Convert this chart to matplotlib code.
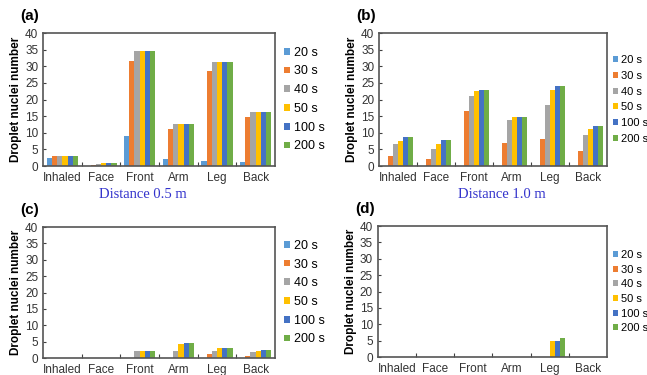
import matplotlib.pyplot as plt
import numpy as np

plt.rcParams['font.family'] = ['Liberation Sans', 'DejaVu Sans']

categories = ['Inhaled', 'Face', 'Front', 'Arm', 'Leg', 'Back']
times = ['20 s', '30 s', '40 s', '50 s', '100 s', '200 s']
colors = ['#5B9BD5', '#ED7D31', '#A5A5A5', '#FFC000', '#4472C4', '#70AD47']

# rows: time, columns: category
data_a = [[2.5, 0.0, 9.0, 2.0, 1.5, 1.2],
          [3.0, 0.3, 31.5, 11.3, 28.5, 14.8],
          [3.0, 0.5, 34.5, 12.8, 31.2, 16.3],
          [3.0, 0.8, 34.5, 12.8, 31.2, 16.3],
          [3.0, 0.8, 34.5, 12.8, 31.2, 16.3],
          [3.0, 0.8, 34.5, 12.8, 31.2, 16.3]]
data_b = [[0.0, 0.0, 0.0, 0.0, 0.0, 0.0],
          [3.0, 2.0, 16.5, 7.0, 8.0, 4.5],
          [6.5, 5.0, 21.0, 14.0, 18.5, 9.5],
          [7.5, 6.5, 22.5, 14.8, 23.0, 11.3],
          [8.8, 7.7, 23.0, 14.8, 24.2, 12.2],
          [8.8, 7.7, 23.0, 14.8, 24.2, 12.2]]
data_c = [[0.0, 0.0, 0.0, 0.0, 0.0, 0.0],
          [0.0, 0.0, 0.0, 0.0, 1.2, 0.5],
          [0.0, 0.0, 2.0, 2.0, 2.0, 1.8],
          [0.0, 0.0, 2.0, 4.2, 3.2, 2.2],
          [0.0, 0.0, 2.0, 4.5, 3.2, 2.3],
          [0.0, 0.0, 2.0, 4.5, 3.2, 2.3]]
data_d = [[0.0, 0.0, 0.0, 0.0, 0.0, 0.0],
          [0.0, 0.0, 0.0, 0.0, 0.0, 0.0],
          [0.0, 0.0, 0.0, 0.0, 0.0, 0.0],
          [0.0, 0.0, 0.0, 0.0, 4.8, 0.0],
          [0.0, 0.0, 0.0, 0.0, 4.8, 0.0],
          [0.0, 0.0, 0.0, 0.1, 5.8, 0.0]]

fig = plt.figure(figsize=(6.47, 3.75), dpi=100)

# label, data, axes rect, legend row spacing (px), legend font size, legend x
panels = [
    ('(a)', data_a, [0.0665, 0.557, 0.3586, 0.355], 16, 9, 1.04),
    ('(b)', data_b, [0.586, 0.557, 0.352, 0.355], 14, 8, 1.025),
    ('(c)', data_c, [0.0665, 0.0453, 0.3586, 0.349], 16, 9, 1.04),
    ('(d)', data_d, [0.584, 0.048, 0.354, 0.349], 13, 8, 1.025),
]

x = np.arange(len(categories))
w = 0.135
for name, data, rect, spacing, fs, lx in panels:
    ax = fig.add_axes(rect)
    for i, t in enumerate(times):
        ax.bar(x + (i - 2.5) * w, data[i], w, color=colors[i], label=t)
    ax.set_xlim(-0.5, 5.5)
    ax.set_ylim(0, 40)
    ax.set_yticks(np.arange(0, 41, 5))
    # boundary ticks between groups, labels at group centres
    ax.set_xticks(np.arange(0.5, 5.5, 1))
    ax.set_xticklabels([])
    ax.set_xticks(x, minor=True)
    ax.set_xticklabels(categories, minor=True)
    ax.tick_params(axis='x', which='major', direction='in', length=3, color='#404040')
    ax.tick_params(axis='x', which='minor', length=0, pad=4, labelsize=8.5, labelcolor='#333333')
    ax.tick_params(axis='y', direction='in', length=2, labelsize=8.5, labelcolor='#333333', color='#404040')
    for s in ax.spines.values():
        s.set_color('#555555')
        s.set_linewidth(1.2)
    ax.set_ylabel('Droplet nuclei number', fontsize=8.5, fontweight='bold', labelpad=2)
    ax.text(-0.1, 1.1, name, transform=ax.transAxes, fontsize=11, fontweight='bold')
    ax.legend(loc='center left', bbox_to_anchor=(lx, 0.5), frameon=False,
              fontsize=fs, handlelength=0.45, handleheight=0.45, handletextpad=0.3,
              labelspacing=(spacing - fs * 1.33) / (fs * 1.33) + 0.2,
              borderpad=0, borderaxespad=0)

fig.text(0.221, 0.48, 'Distance 0.5 m', color='#3333CC', fontsize=10.5,
         family='Liberation Serif', ha='center', va='center')
fig.text(0.776, 0.48, 'Distance 1.0 m', color='#3333CC', fontsize=10.5,
         family='Liberation Serif', ha='center', va='center')

fig.savefig('out.png', dpi=100)
